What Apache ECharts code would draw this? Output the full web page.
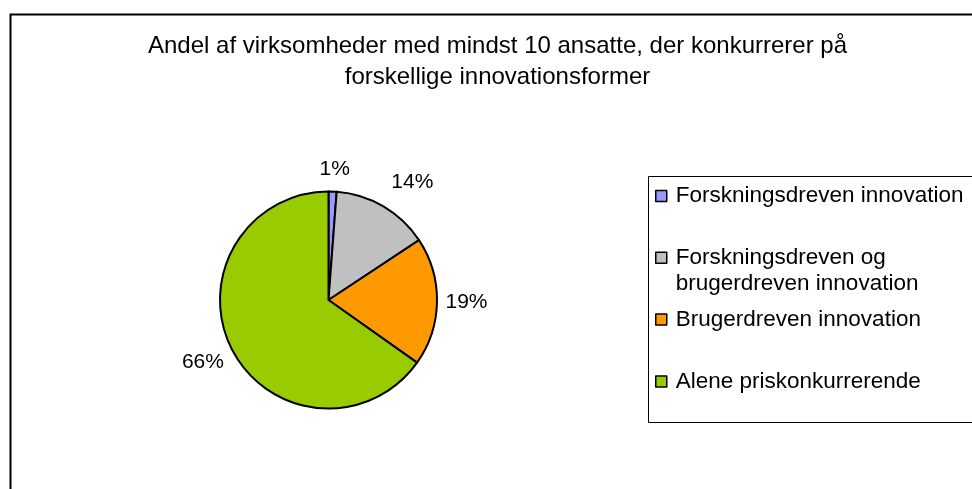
<!DOCTYPE html>
<html><head><meta charset="utf-8">
<script src="https://cdn.jsdelivr.net/npm/echarts@6/dist/echarts.min.js"></script>
<style>html,body{margin:0;padding:0;background:#fff;overflow:hidden}#c{width:972px;height:489px}</style>
</head><body><div id="c"></div>
<script>
// ---- data ----
const titleLines = ['Andel af virksomheder med mindst 10 ansatte, der konkurrerer på', 'forskellige innovationsformer'];
const categories = ['Forskningsdreven innovation', 'Forskningsdreven og\nbrugerdreven innovation', 'Brugerdreven innovation', 'Alene priskonkurrerende'];
const values = [1.2, 14.5, 19.1, 65.2];
const percentLabels = ['1%', '14%', '19%', '66%'];

// ---- styles / layout ----
const colors = ['#9999FF', '#C0C0C0', '#FF9900', '#99CC00'];
const FONT = "'Liberation Sans', Arial, Helvetica, sans-serif";
const pieCenter = [328.5, 300];
const pieRadius = 108.5;
const labelRing = [128, 142];
const labelNudge = {0: [1, 7], 1: [14, 1], 3: [-3, -1]};
const legendLeft = 655, legendFirstCenter = 196, legendPitch = 61.8, legendLine = 26;

const chart = echarts.init(document.getElementById('c'), null, {renderer: 'canvas'});

const pieData = categories.map((n, i) => ({name: n, value: values[i], itemStyle: {color: colors[i]}}));
const labelData = categories.map((n, i) => {
  const d = {name: n, value: values[i]};
  if (labelNudge[i]) d.label = {offset: labelNudge[i]};
  return d;
});

const legends = categories.map((n, i) => {
  const twoLine = n.indexOf('\n') >= 0;
  const center = legendFirstCenter + i * legendPitch;
  return {
    data: [n], orient: 'vertical', left: legendLeft,
    top: center - legendLine / 2 - (twoLine ? legendLine : 0),
    padding: 0, itemWidth: 11, itemHeight: 11, icon: 'rect', selectedMode: false,
    // a leading blank line keeps the icon level with the first text line
    formatter: name => (twoLine ? '\n' : '') + name,
    itemStyle: {color: colors[i], borderColor: '#000', borderWidth: 1.5},
    textStyle: {fontSize: 22.5, fontFamily: FONT, color: '#000', lineHeight: legendLine, padding: [0, 0, 0, 4]}
  };
});

chart.setOption({
  animation: false,
  backgroundColor: '#fff',
  title: {
    text: titleLines.join('\n'), left: 497.5, top: 31, padding: 0, textAlign: 'center',
    textStyle: {fontSize: 24, fontWeight: 'normal', fontFamily: FONT, color: '#000', lineHeight: 31}
  },
  legend: legends,
  graphic: [
    {type: 'rect', silent: true, z: -10, shape: {x: 10.5, y: 14.5, width: 1000, height: 1000}, style: {fill: 'none', stroke: '#000', lineWidth: 2}},
    {type: 'rect', silent: true, z: -10, shape: {x: 648.5, y: 176.5, width: 400, height: 246}, style: {fill: 'none', stroke: '#000', lineWidth: 1}}
  ],
  series: [
    {
      type: 'pie', center: pieCenter, radius: pieRadius, startAngle: 90, clockwise: true,
      silent: true, emphasis: {disabled: true},
      data: pieData,
      itemStyle: {borderColor: '#000', borderWidth: 2},
      label: {show: false}, labelLine: {show: false}
    },
    {
      type: 'pie', center: pieCenter, radius: labelRing, startAngle: 90, clockwise: true,
      silent: true, emphasis: {disabled: true},
      data: labelData,
      itemStyle: {color: 'rgba(0,0,0,0)', borderWidth: 0},
      label: {show: true, position: 'inside', overflow: 'none', formatter: p => percentLabels[p.dataIndex],
        fontSize: 21, fontFamily: FONT, color: '#000'},
      labelLine: {show: false}
    }
  ]
});
</script></body></html>
